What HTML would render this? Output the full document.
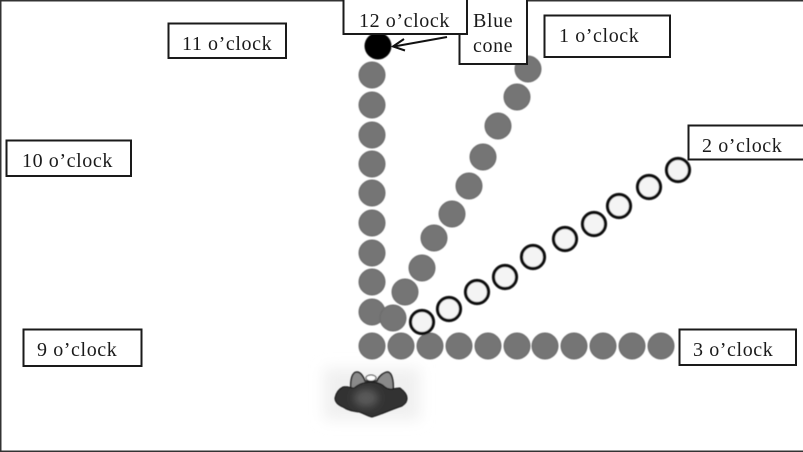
<!DOCTYPE html>
<html>
<head>
<meta charset="utf-8">
<style>
html,body{margin:0;padding:0;background:#fff}
body{width:803px;height:452px;overflow:hidden}
svg{display:block}
text{font-family:"Liberation Serif",serif;font-size:20px;letter-spacing:.6px;fill:#1a1a1a}
.b{fill:#fff;stroke:#1a1a1a;stroke-width:2}
.g{fill:#747474;stroke:#6c6c6c;stroke-width:1}
.o{fill:#f4f4f4;stroke:#0c0c0c;stroke-width:3.2}
</style>
</head>
<body>
<svg width="803" height="452" viewBox="0 0 803 452" xmlns="http://www.w3.org/2000/svg">
<defs>
<filter id="bl" x="-30%" y="-30%" width="160%" height="160%"><feGaussianBlur stdDeviation="7"/></filter>
<filter id="m" x="-30%" y="-30%" width="160%" height="160%"><feGaussianBlur stdDeviation="4"/></filter>
<filter id="s" x="-5%" y="-5%" width="110%" height="110%"><feGaussianBlur stdDeviation="0.4"/></filter>
</defs>
<rect width="803" height="452" fill="#fff"/>
<rect x="0" y="0" width="803" height="1.5" fill="#333"/>
<rect x="0" y="0" width="1.5" height="452" fill="#333"/>
<rect x="0" y="450.5" width="803" height="1.5" fill="#333"/>
<rect x="324" y="368" width="96" height="52" fill="#f0f0f0" filter="url(#bl)"/>

<g filter="url(#s)">
<g>
<circle class="g" cx="372" cy="75" r="13"/>
<circle class="g" cx="372" cy="105" r="13"/>
<circle class="g" cx="372" cy="135" r="13"/>
<circle class="g" cx="372" cy="164" r="13"/>
<circle class="g" cx="372" cy="193" r="13"/>
<circle class="g" cx="372" cy="223" r="13"/>
<circle class="g" cx="372" cy="253" r="13"/>
<circle class="g" cx="372" cy="282" r="13"/>
<circle class="g" cx="372" cy="312" r="13"/>
<circle class="g" cx="372" cy="346" r="13"/>
<circle class="g" cx="401" cy="346" r="13"/>
<circle class="g" cx="430" cy="346" r="13"/>
<circle class="g" cx="459" cy="346" r="13"/>
<circle class="g" cx="488" cy="346" r="13"/>
<circle class="g" cx="517" cy="346" r="13"/>
<circle class="g" cx="545" cy="346" r="13"/>
<circle class="g" cx="574" cy="346" r="13"/>
<circle class="g" cx="603" cy="346" r="13"/>
<circle class="g" cx="632" cy="346" r="13"/>
<circle class="g" cx="661" cy="346" r="13"/>
<circle class="g" cx="393" cy="318" r="13"/>
<circle class="g" cx="405" cy="292" r="13"/>
<circle class="g" cx="422" cy="268" r="13"/>
<circle class="g" cx="434" cy="238" r="13"/>
<circle class="g" cx="452" cy="214" r="13"/>
<circle class="g" cx="469" cy="186" r="13"/>
<circle class="g" cx="483" cy="157" r="13"/>
<circle class="g" cx="498" cy="126" r="13"/>
<circle class="g" cx="517" cy="97" r="13"/>
<circle class="g" cx="528" cy="69" r="13"/>
</g>
<circle class="o" cx="422" cy="322" r="11.5"/>
<circle class="o" cx="449" cy="309" r="11.5"/>
<circle class="o" cx="477" cy="292" r="11.5"/>
<circle class="o" cx="505" cy="277" r="11.5"/>
<circle class="o" cx="533" cy="257" r="11.5"/>
<circle class="o" cx="565" cy="239" r="11.5"/>
<circle class="o" cx="594" cy="224" r="11.5"/>
<circle class="o" cx="619" cy="206" r="11.5"/>
<circle class="o" cx="649" cy="187" r="11.5"/>
<circle class="o" cx="678" cy="170" r="11.5"/>

<circle cx="378" cy="46" r="13.5" fill="#050505"/>

<!-- mouse -->
<path d="M351 390C350 380 352 372 357 372C361 372 364 378 365 381L377 381C379 376 384 372 388 372C392 373 394 381 393 392Z" fill="#8a8a8a" stroke="#222" stroke-width="1.5"/>
<ellipse cx="371" cy="378" rx="5" ry="3" fill="#fff" stroke="#333" stroke-width="1"/>
<path d="M343 387C347 386 351 388 354 388C358 385 362 382 371 382C378 382 382 384 385 387C390 391 395 388 400 388C404 391 407 394 407 398C407 402 405 404 402 406C396 408 391 410 386 412C381 414 376 416 372 417C367 416 363 413 359 412C352 411 347 410 343 407C338 405 335 402 335 398C336 393 339 389 343 387Z" fill="#333" stroke="#111" stroke-width="1"/>
<ellipse cx="366" cy="398" rx="12" ry="9" fill="#5a5a5a" filter="url(#m)"/>
</g>

<rect class="b" x="168.500" y="23.500" width="117.500" height="34.500"/>
<text x="182" y="50">11 o’clock</text>

<rect class="b" x="6.500" y="140.500" width="124.500" height="35.500"/>
<text x="22" y="167">10 o’clock</text>

<rect class="b" x="23.500" y="329.500" width="118" height="36.500"/>
<text x="37" y="356">9 o’clock</text>

<rect class="b" x="679.500" y="329.500" width="116.500" height="35.500"/>
<text x="693" y="356">3 o’clock</text>

<rect class="b" x="688.500" y="125.500" width="116" height="34"/>
<text x="702" y="152">2 o’clock</text>

<rect class="b" x="544.500" y="15.500" width="125.500" height="41.500"/>
<text x="559" y="42">1 o’clock</text>

<rect class="b" x="459.500" y="-2" width="67.500" height="66"/>
<text x="473" y="27">Blue</text>
<text x="473" y="52">cone</text>

<rect class="b" x="343.500" y="-2" width="123.500" height="36"/>
<text x="359" y="27">12 o’clock</text>

<path d="M447 37L394 46.500" fill="none" stroke="#111" stroke-width="2"/>
<path d="M404 39L393 46.500L405 50.500" fill="none" stroke="#111" stroke-width="2"/>
</svg>
</body>
</html>
